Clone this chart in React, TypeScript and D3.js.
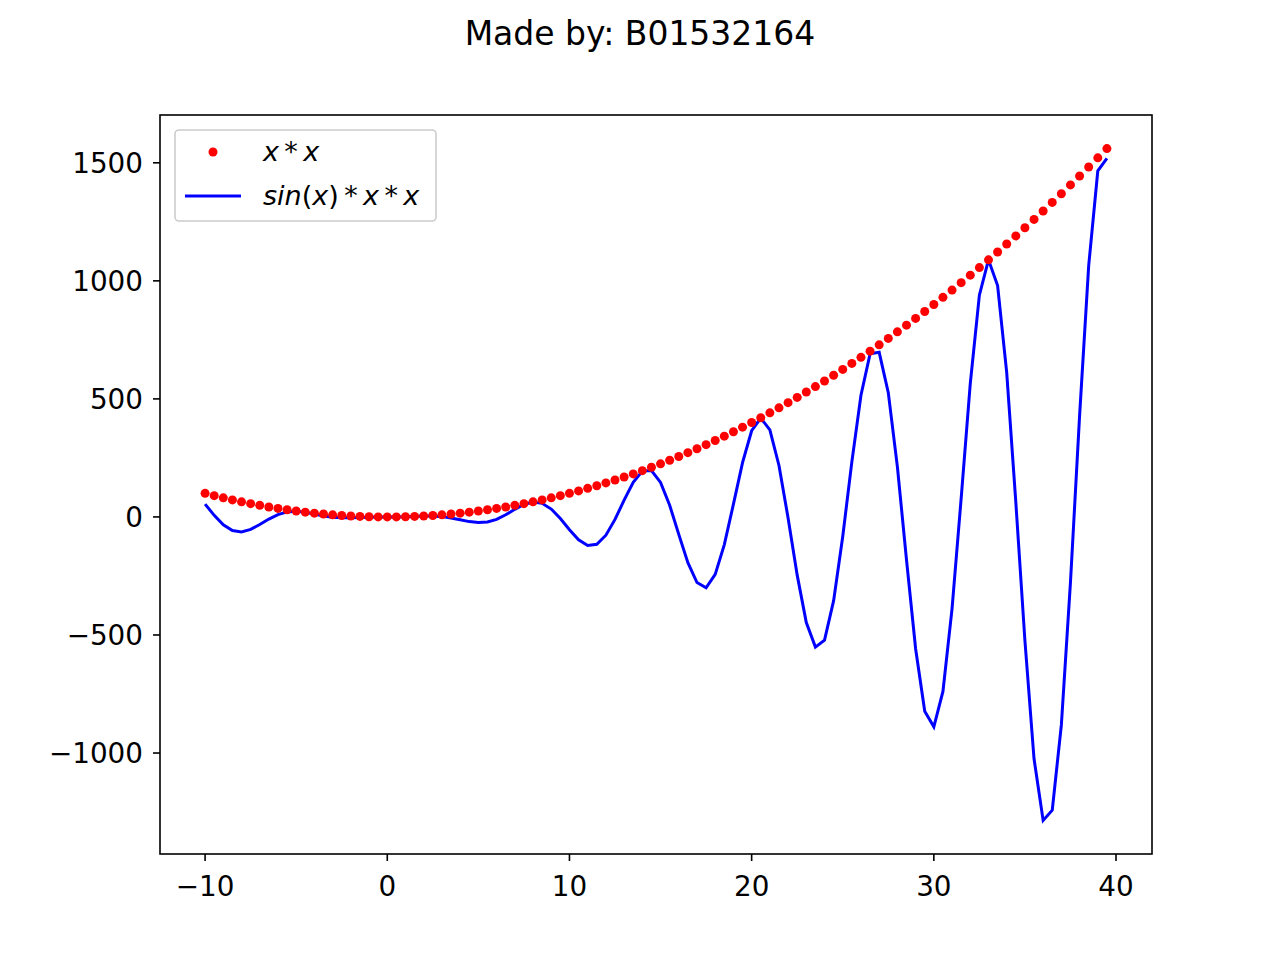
import React, { useEffect, useRef } from 'react';
import * as d3 from 'd3';

// x values, step 0.5 from -10 to 39.5
const xs = [
  -10, -9.5, -9, -8.5, -8, -7.5, -7, -6.5, -6, -5.5, -5, -4.5, -4, -3.5, -3, -2.5, -2, -1.5, -1, -0.5,
  0, 0.5, 1, 1.5, 2, 2.5, 3, 3.5, 4, 4.5, 5, 5.5, 6, 6.5, 7, 7.5, 8, 8.5, 9, 9.5,
  10, 10.5, 11, 11.5, 12, 12.5, 13, 13.5, 14, 14.5, 15, 15.5, 16, 16.5, 17, 17.5, 18, 18.5, 19, 19.5,
  20, 20.5, 21, 21.5, 22, 22.5, 23, 23.5, 24, 24.5, 25, 25.5, 26, 26.5, 27, 27.5, 28, 28.5, 29, 29.5,
  30, 30.5, 31, 31.5, 32, 32.5, 33, 33.5, 34, 34.5, 35, 35.5, 36, 36.5, 37, 37.5, 38, 38.5, 39, 39.5,
];

// x*x (red dots)
const squares = [
  100, 90.25, 81, 72.25, 64, 56.25, 49, 42.25, 36, 30.25, 25, 20.25, 16, 12.25, 9, 6.25, 4, 2.25, 1, 0.25,
  0, 0.25, 1, 2.25, 4, 6.25, 9, 12.25, 16, 20.25, 25, 30.25, 36, 42.25, 49, 56.25, 64, 72.25, 81, 90.25,
  100, 110.25, 121, 132.25, 144, 156.25, 169, 182.25, 196, 210.25, 225, 240.25, 256, 272.25, 289, 306.25, 324, 342.25, 361, 380.25,
  400, 420.25, 441, 462.25, 484, 506.25, 529, 552.25, 576, 600.25, 625, 650.25, 676, 702.25, 729, 756.25, 784, 812.25, 841, 870.25,
  900, 930.25, 961, 992.25, 1024, 1056.25, 1089, 1122.25, 1156, 1190.25, 1225, 1260.25, 1296, 1332.25, 1369, 1406.25, 1444, 1482.25, 1521, 1560.25,
];

// sin(x)*x*x (blue line)
const sinSquares = [
  54.4, 6.8, -33.4, -57.7, -63.3, -52.8, -32.2, -9.1, 10.1, 21.3, 24.0, 19.8, 12.1, 4.3, -1.3, -3.7, -3.6, -2.2, -0.8, -0.1,
  0, 0.1, 0.8, 2.2, 3.6, 3.7, 1.3, -4.3, -12.1, -19.8, -24.0, -21.3, -10.1, 9.1, 32.2, 52.8, 63.3, 57.7, 33.4, -6.8,
  -54.4, -97.0, -121.0, -115.8, -77.3, -10.4, 71.0, 146.5, 194.2, 196.6, 146.3, 49.6, -73.7, -193.8, -277.8, -300.2, -243.3, -117.2, 54.1, 230.2,
  365.2, 418.9, 369.0, 218.0, -4.3, -246.6, -447.6, -551.4, -521.6, -354.8, -82.8, 233.5, 515.5, 690.7, 697.2, 526.4, 212.4, -181.8, -558.1, -822.7,
  -889.2, -738.8, -388.2, 78.9, 564.6, 939.2, 1088.9, 979.9, 611.6, 62.5, -524.5, -1024.6, -1285.4, -1242.1, -881.0, -276.3, 428.0, 1064.4, 1466.2, 1519.0,
];

const xTicks = [-10, 0, 10, 20, 30, 40];
const yTicks = [-1000, -500, 0, 500, 1000, 1500];

export default function App() {
  const svgRef = useRef<SVGSVGElement>(null);

  useEffect(() => {
    if (!svgRef.current) return;
    const svg = d3.select(svgRef.current);
    svg.selectAll('*').remove();

    const left = 160, right = 1152, top = 115, bottom = 854;
    const font = "DejaVu Sans, sans-serif";

    const x = d3.scaleLinear().domain([-12.475, 41.975]).range([left, right]);
    const y = d3.scaleLinear().domain([-1427.7, 1702.5]).range([bottom, top]);
    const fmt = (v: number) => String(v).replace('-', '\u2212');

    svg.append('rect').attr('width', 1280).attr('height', 960).attr('fill', '#fff');

    svg.append('text')
      .attr('x', 640).attr('y', 45)
      .attr('text-anchor', 'middle')
      .style('font-family', font).style('font-size', '33px')
      .text('Made by: B01532164');

    // blue line
    const line = d3.line<number>()
      .x((_, i) => x(xs[i]))
      .y(d => y(d));
    svg.append('path')
      .datum(sinSquares)
      .attr('d', line)
      .attr('fill', 'none')
      .attr('stroke', '#0000ff')
      .attr('stroke-width', 3);

    // red dots
    svg.append('g').selectAll('circle')
      .data(squares)
      .join('circle')
      .attr('cx', (_, i) => x(xs[i]))
      .attr('cy', d => y(d))
      .attr('r', 4.5)
      .attr('fill', '#ff0000');

    // frame
    svg.append('rect')
      .attr('x', left).attr('y', top)
      .attr('width', right - left).attr('height', bottom - top)
      .attr('fill', 'none').attr('stroke', '#000').attr('stroke-width', 1.6);

    // x axis
    const xa = svg.append('g');
    xTicks.forEach(t => {
      xa.append('line').attr('x1', x(t)).attr('x2', x(t))
        .attr('y1', bottom).attr('y2', bottom + 7).attr('stroke', '#000').attr('stroke-width', 1.6);
      xa.append('text').attr('x', x(t)).attr('y', bottom + 42)
        .attr('text-anchor', 'middle')
        .style('font-family', font).style('font-size', '27.8px')
        .text(fmt(t));
    });

    // y axis
    const ya = svg.append('g');
    yTicks.forEach(t => {
      ya.append('line').attr('x1', left - 7).attr('x2', left)
        .attr('y1', y(t)).attr('y2', y(t)).attr('stroke', '#000').attr('stroke-width', 1.6);
      ya.append('text').attr('x', left - 17).attr('y', y(t))
        .attr('text-anchor', 'end').attr('dy', '0.35em')
        .style('font-family', font).style('font-size', '27.8px')
        .text(fmt(t));
    });

    // legend
    const lg = svg.append('g');
    lg.append('rect')
      .attr('x', 175).attr('y', 130).attr('width', 261).attr('height', 91).attr('rx', 4)
      .attr('fill', 'rgba(255,255,255,0.8)').attr('stroke', '#ccc').attr('stroke-width', 1.6);
    lg.append('circle').attr('cx', 213).attr('cy', 152).attr('r', 4.5).attr('fill', '#ff0000');
    lg.append('line').attr('x1', 185).attr('x2', 241).attr('y1', 196).attr('y2', 196)
      .attr('stroke', '#0000ff').attr('stroke-width', 3);
    const labelStyle = (t: d3.Selection<SVGTextElement, unknown, null, undefined>) =>
      t.style('font-family', font).style('font-size', '27px').style('font-style', 'italic');
    labelStyle(lg.append('text').attr('x', 263).attr('y', 161)).text('x\u2009*\u2009x');
    const t2 = labelStyle(lg.append('text').attr('x', 263).attr('y', 205));
    t2.append('tspan').text('sin');
    t2.append('tspan').style('font-style', 'normal').text('(');
    t2.append('tspan').text('x');
    t2.append('tspan').style('font-style', 'normal').text(')');
    t2.append('tspan').text('\u2009*\u2009x\u2009*\u2009x');
  }, []);

  return <svg ref={svgRef} width={1280} height={960} style={{ display: 'block', margin: -8 }} />;
}
